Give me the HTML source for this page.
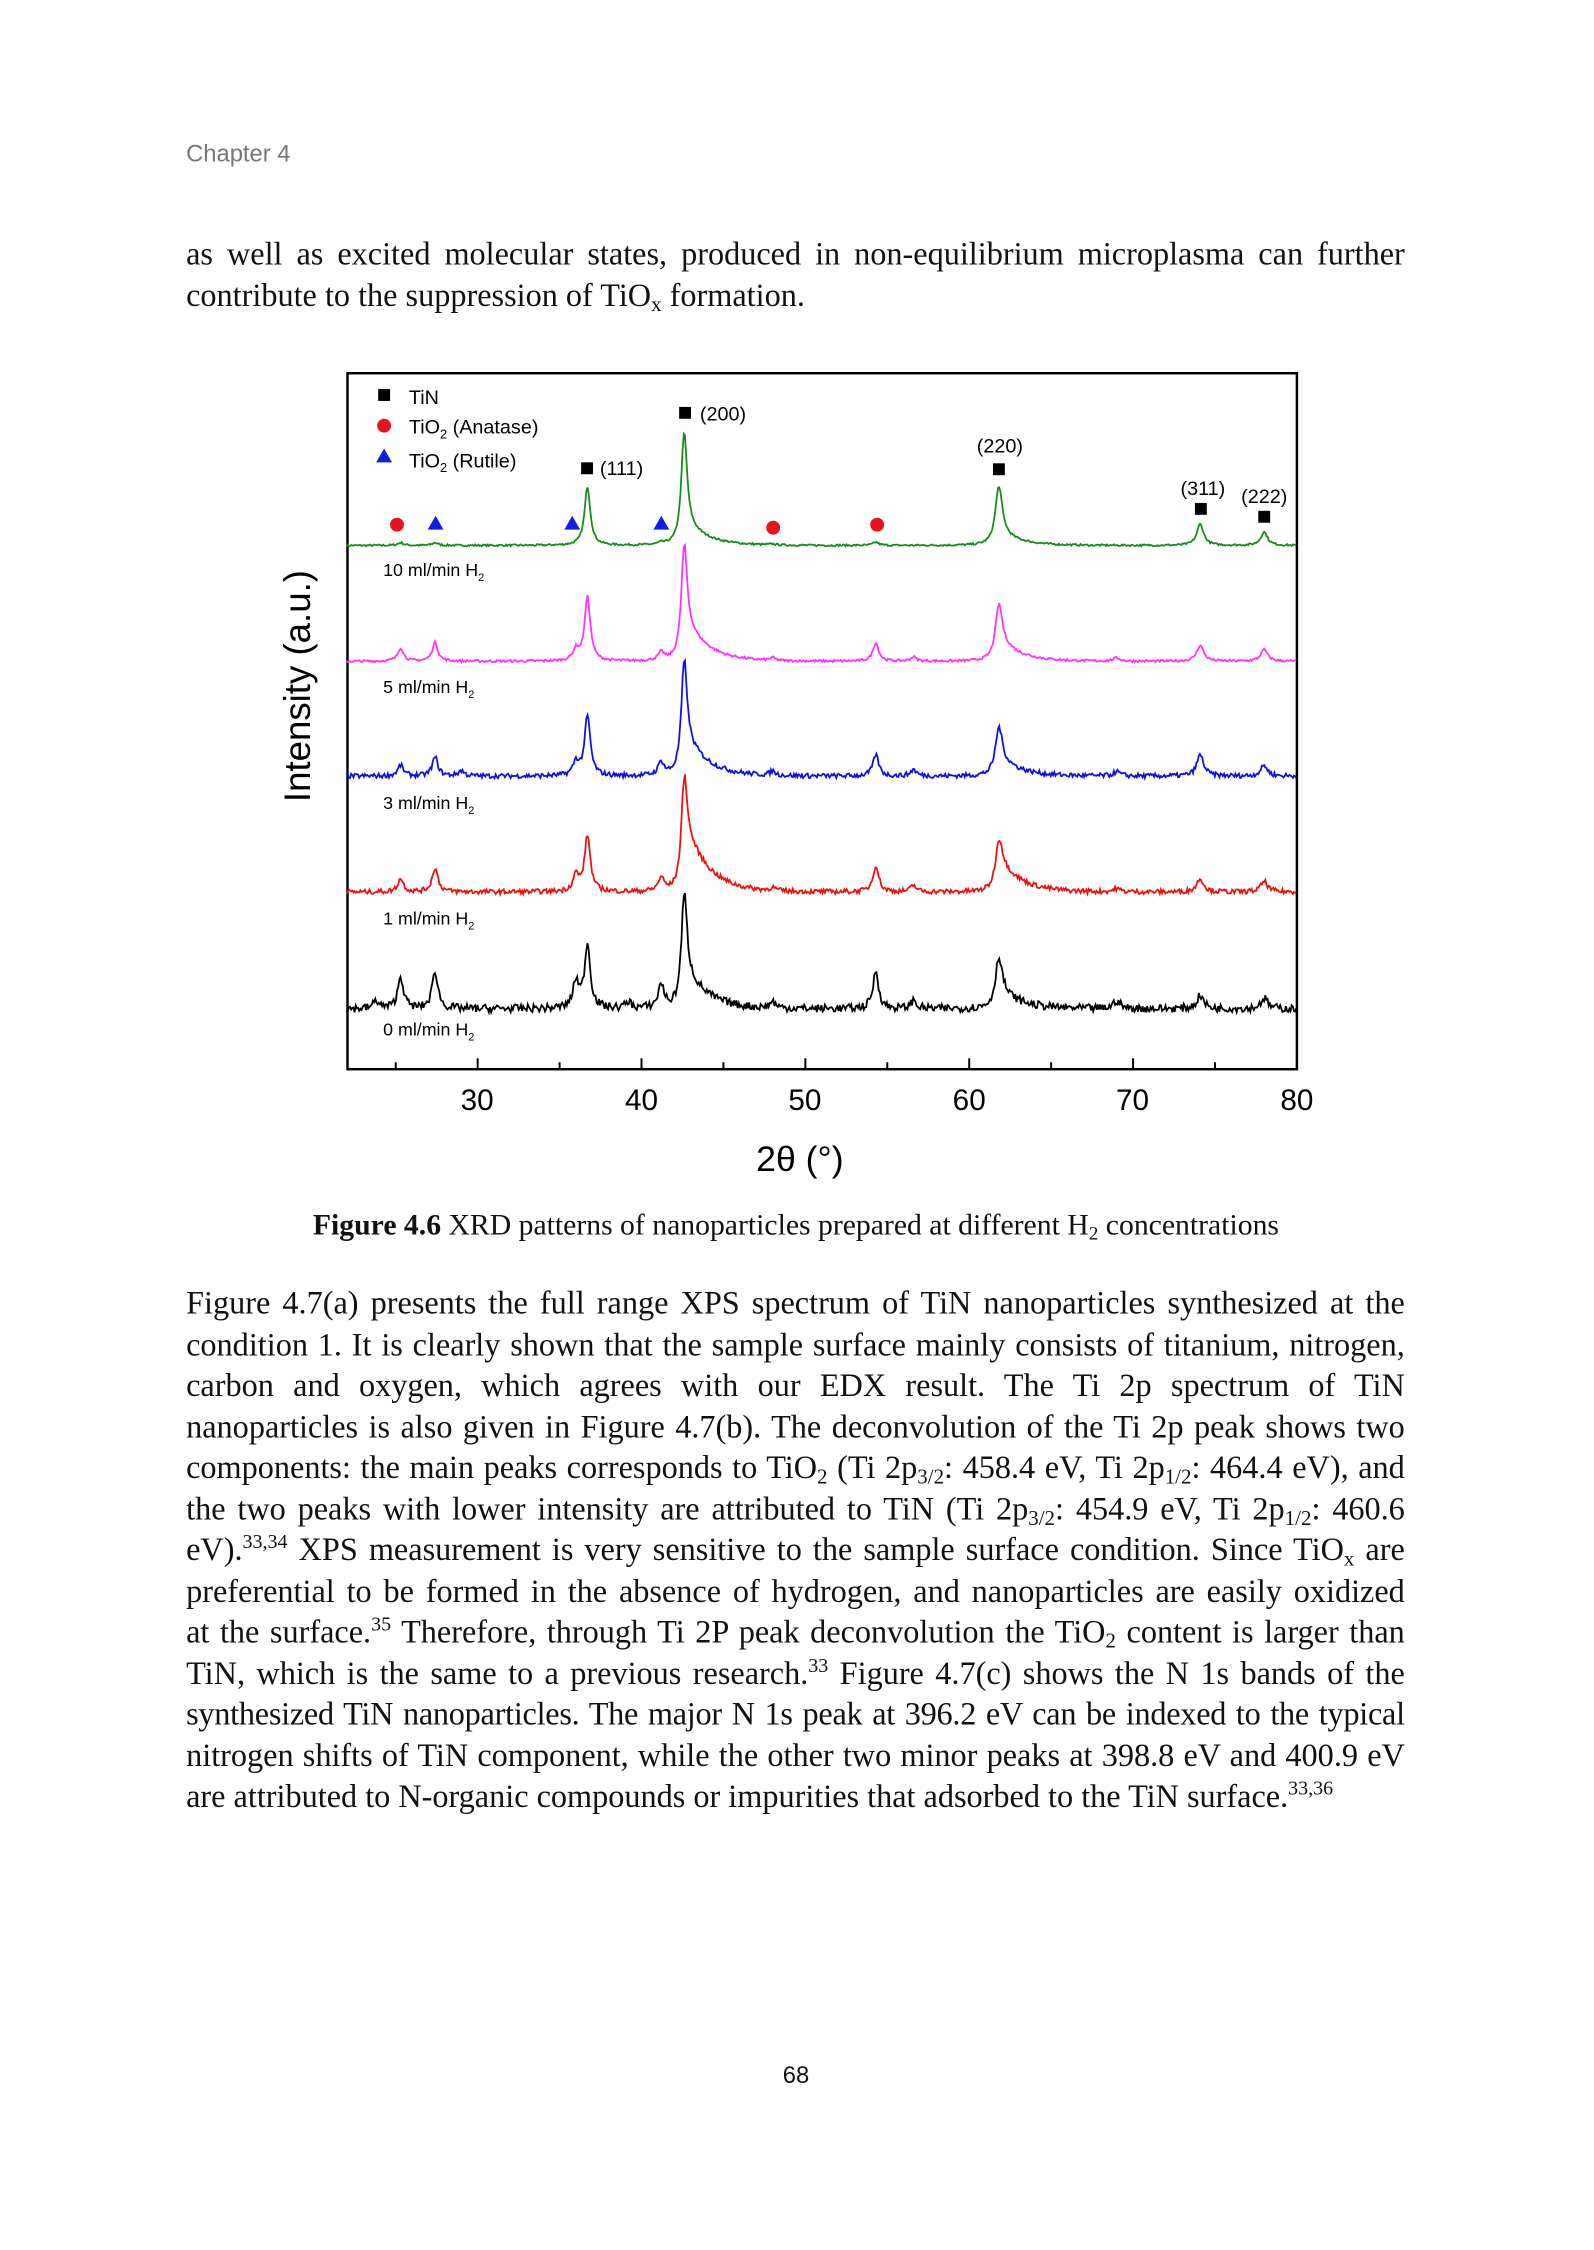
<!DOCTYPE html>
<html><head><meta charset="utf-8"><style>
body{margin:0;background:#fff;}
#wrap{width:1594px;height:2250px;overflow:hidden;position:relative;}
#pg{position:absolute;left:0;top:0;width:1610px;height:2273px;transform:scale(0.99);transform-origin:0 0;font-family:"Liberation Serif",serif;color:#111;}
.ab{position:absolute;white-space:nowrap;}
.ln{position:absolute;left:188px;width:1231px;text-align:justify;text-align-last:justify;font-size:32.6px;white-space:nowrap;height:40px;line-height:40px;}
sub{font-size:65%;vertical-align:-0.25em;line-height:0}
sup{font-size:62%;vertical-align:0.6em;line-height:0}
</style></head><body><div id="wrap"><div id="pg">
<div class="ab" style="left:188px;top:142px;font-family:'Liberation Sans',sans-serif;font-size:24px;color:#777;">Chapter 4</div>
<div class="ln" style="top:237px">as well as excited molecular states, produced in non-equilibrium microplasma can further</div>
<div class="ln" style="top:279px;text-align-last:left;width:auto">contribute to the suppression of TiO<sub>x</sub> formation.</div>

<svg class="ab" style="left:0;top:0" width="1594" height="1300" id="sv" font-family="Liberation Sans, sans-serif">
<rect x="351" y="377" width="959" height="703" fill="none" stroke="#000" stroke-width="2.5"/>
<g id="ticks"></g>
<g id="curves"></g>
<g font-size="30" text-anchor="middle">
<text x="482" y="1121">30</text><text x="648" y="1121">40</text><text x="813" y="1121">50</text><text x="979" y="1121">60</text><text x="1144" y="1121">70</text><text x="1310" y="1121">80</text>
</g>
<text x="808" y="1183" font-size="36" text-anchor="middle">2θ (°)</text>
<text transform="translate(313,693) rotate(-90)" font-size="37" text-anchor="middle">Intensity (a.u.)</text>
<g font-size="20">
<rect x="382" y="393" width="12" height="12"/><text x="413" y="408">TiN</text>
<circle cx="388" cy="430" r="7" fill="#e8141c"/><text x="413" y="438">TiO<tspan font-size="13" dy="5">2</tspan><tspan dy="-5"> (Anatase)</tspan></text>
<polygon points="388,453 396,467 380,467" fill="#1020e0"/><text x="413" y="472">TiO<tspan font-size="13" dy="5">2</tspan><tspan dy="-5"> (Rutile)</tspan></text>
<rect x="587" y="467" width="12" height="12"/><text x="606" y="480">(111)</text>
<rect x="686" y="411" width="12" height="12"/><text x="707" y="425">(200)</text>
<rect x="1003" y="468" width="12" height="12"/><text x="1010" y="457" text-anchor="middle">(220)</text>
<rect x="1207" y="508" width="12" height="12"/><text x="1215" y="500" text-anchor="middle">(311)</text>
<rect x="1271" y="516" width="12" height="12"/><text x="1277" y="508" text-anchor="middle">(222)</text>
<circle cx="401" cy="530" r="7" fill="#e8141c"/><circle cx="781" cy="533" r="7" fill="#e8141c"/><circle cx="886" cy="530" r="7" fill="#e8141c"/>
<polygon points="440,521 448,535 432,535" fill="#1020e0"/><polygon points="578,521 586,535 570,535" fill="#1020e0"/><polygon points="668,521 676,535 660,535" fill="#1020e0"/>
</g>
<g font-size="18">
<text x="387" y="582">10 ml/min H<tspan font-size="11" dy="5">2</tspan></text>
<text x="387" y="700">5 ml/min H<tspan font-size="11" dy="5">2</tspan></text>
<text x="387" y="817">3 ml/min H<tspan font-size="11" dy="5">2</tspan></text>
<text x="387" y="934">1 ml/min H<tspan font-size="11" dy="5">2</tspan></text>
<text x="387" y="1046">0 ml/min H<tspan font-size="11" dy="5">2</tspan></text>
</g>
</svg>

<div class="ab" style="left:0;width:1608px;text-align:center;top:1221px;font-size:30px;"><b>Figure 4.6</b> XRD patterns of nanoparticles prepared at different H<sub>2</sub> concentrations</div>

<div class="ln" style="top:1297px">Figure 4.7(a) presents the full range XPS spectrum of TiN nanoparticles synthesized at the</div>
<div class="ln" style="top:1339px">condition 1. It is clearly shown that the sample surface mainly consists of titanium, nitrogen,</div>
<div class="ln" style="top:1380px">carbon and oxygen, which agrees with our EDX result. The Ti 2p spectrum of TiN</div>
<div class="ln" style="top:1422px">nanoparticles is also given in Figure 4.7(b). The deconvolution of the Ti 2p peak shows two</div>
<div class="ln" style="top:1463px">components: the main peaks corresponds to TiO<sub>2</sub> (Ti 2p<sub>3/2</sub>: 458.4 eV, Ti 2p<sub>1/2</sub>: 464.4 eV), and</div>
<div class="ln" style="top:1505px">the two peaks with lower intensity are attributed to TiN (Ti 2p<sub>3/2</sub>: 454.9 eV, Ti 2p<sub>1/2</sub>: 460.6</div>
<div class="ln" style="top:1546px">eV).<sup>33,34</sup> XPS measurement is very sensitive to the sample surface condition. Since TiO<sub>x</sub> are</div>
<div class="ln" style="top:1588px">preferential to be formed in the absence of hydrogen, and nanoparticles are easily oxidized</div>
<div class="ln" style="top:1629px">at the surface.<sup>35</sup> Therefore, through Ti 2P peak deconvolution the TiO<sub>2</sub> content is larger than</div>
<div class="ln" style="top:1671px">TiN, which is the same to a previous research.<sup>33</sup> Figure 4.7(c) shows the N 1s bands of the</div>
<div class="ln" style="top:1712px;letter-spacing:-0.25px;word-spacing:-1px">synthesized TiN nanoparticles. The major N 1s peak at 396.2 eV can be indexed to the typical</div>
<div class="ln" style="top:1754px">nitrogen shifts of TiN component, while the other two minor peaks at 398.8 eV and 400.9 eV</div>
<div class="ln" style="top:1795px;text-align-last:left;width:auto">are attributed to N-organic compounds or impurities that adsorbed to the TiN surface.<sup>33,36</sup></div>

<div class="ab" style="left:0;width:1608px;text-align:center;top:2083px;font-family:'Liberation Sans',sans-serif;font-size:24px;">68</div>
</div></div>
<script>
(function(){
var X=function(t){return 482.5+(t-30)*16.55;};
var tk='';
for(var t=25;t<=80;t+=5){var x=X(t);var L=(t%10==0)?11:7;tk+='<line x1="'+x+'" y1="1080" x2="'+x+'" y2="'+(1080-L)+'" stroke="#000" stroke-width="2"/>';}
document.getElementById('ticks').innerHTML=tk;
var seed=7;function rnd(){seed=(seed*16807)%2147483647;return seed/2147483647;}
var s=0.54;
var series=[
 {c:'#1a8a1a',b:551,n:1.2,p:{25.3:5,27.4:5,36:0,36.7:110,41.2:3,42.6:210,48:2,54.3:6,61.8:110,74.1:40,78:25},tail:0.2},
 {c:'#ff33ff',b:668,n:1.5,p:{25.3:25,27.4:35,36:20,36.7:120,41.2:15,42.6:215,48:5,54.3:35,56.6:8,61.8:105,69:6,74.1:30,78:22},tail:0.35},
 {c:'#1010e0',b:784,n:3,p:{25.3:20,27.4:35,29:10,36:25,36.7:112,41.2:25,42.6:212,48:8,54.3:40,56.6:12,61.8:90,69:8,74.1:40,78:20},tail:0.35},
 {c:'#ee1111',b:901,n:3,p:{25.3:25,27.4:45,36:30,36.7:105,41.2:25,42.6:210,48:6,54.3:50,56.6:12,61.8:95,69:6,74.1:25,78:20},tail:0.6},
 {c:'#000',b:1019,n:5,p:{23.8:15,25.3:60,27.4:70,36:50,36.7:120,39.2:12,41.2:45,42.6:210,48:12,54.3:70,56.6:15,61.8:95,69:15,74.1:25,78:20},tail:0.35}
];
var out='';
series.forEach(function(S){
 var d='';
 for(var t=22;t<=80;t+=0.07){
  var y=0;
  for(var k in S.p){var c=parseFloat(k),h=S.p[k]*s,w=(c>60?0.25:0.21);var u=(t-c)/w;y+=h/(1+u*u);
   if(k=='42.6'||k=='61.8'){if(t>c){y+=h*S.tail*Math.exp(-(t-c)/1.4)*(1-Math.exp(-(t-c)/0.3));}}}
  y+=(rnd()-0.5)*S.n*1.6;
  var px=X(t),py=S.b-y;
  d+=(d?'L':'M')+px.toFixed(1)+','+py.toFixed(1);
 }
 out+='<path d="'+d+'" fill="none" stroke="'+S.c+'" stroke-width="1.8"/>';
});
document.getElementById('curves').innerHTML=out;
})();
</script>
</body></html>
